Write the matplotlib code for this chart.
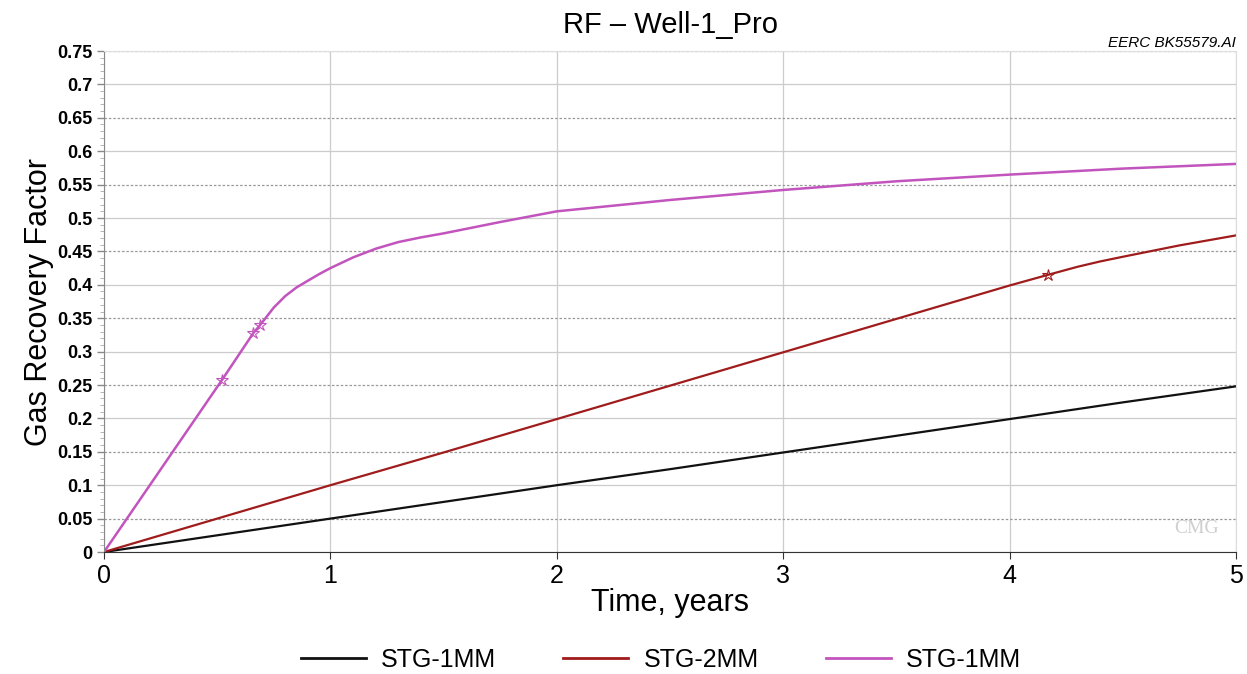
import numpy as np
import matplotlib.pyplot as plt
from matplotlib.ticker import MultipleLocator
from matplotlib.lines import Line2D

plt.rcParams['font.family'] = ['Liberation Sans', 'DejaVu Sans']

# series
t_black = [0, 0.5, 1, 1.5, 2, 2.5, 3, 3.5, 4, 4.5, 5]
rf_black = [0, 0.025, 0.05, 0.075, 0.1, 0.124, 0.149, 0.174, 0.199, 0.224, 0.248]

t_red = [0, 0.5, 1, 1.5, 2, 2.5, 3, 3.5, 4, 4.17, 4.3, 4.4, 4.5, 4.75, 5]
rf_red = [0, 0.05, 0.1, 0.149, 0.199, 0.249, 0.299, 0.349, 0.399, 0.415, 0.427, 0.435, 0.442, 0.459, 0.474]

t_pink = [0, 0.52, 0.66, 0.69, 0.75, 0.8, 0.85, 0.9, 0.95, 1.0, 1.1, 1.2, 1.3, 1.4, 1.5,
          1.75, 2.0, 2.5, 3.0, 3.5, 4.0, 4.5, 5.0]
rf_pink = [0, 0.257, 0.328, 0.34, 0.366, 0.383, 0.396, 0.406, 0.416, 0.425, 0.441, 0.454, 0.464,
           0.471, 0.477, 0.494, 0.51, 0.527, 0.542, 0.555, 0.565, 0.574, 0.581]

mark_pink = [1, 2, 3]
mark_red = [9]

labels = ['STG-1MM', 'STG-2MM', 'STG-1MM']
colors = ['#111111', '#a01c1c', '#c254bd']

fig = plt.figure(figsize=(12.47, 6.74), dpi=100)
ax = fig.add_axes([0.0834, 0.181, 0.9078, 0.7433])

ax.plot(t_black, rf_black, color=colors[0], lw=1.6)
ax.plot(t_red, rf_red, color=colors[1], lw=1.6,
        marker='*', markevery=mark_red, ms=9, mfc='none', mew=0.8)
ax.plot(t_pink, rf_pink, color=colors[2], lw=1.8,
        marker='*', markevery=mark_pink, ms=9, mfc='none', mew=0.8)

ax.set_xlim(0, 5)
ax.set_ylim(0, 0.75)
ax.xaxis.set_major_locator(MultipleLocator(1))
ax.yaxis.set_minor_locator(MultipleLocator(0.01))
ax.set_yticks(np.arange(0, 0.751, 0.05))
ax.set_yticklabels(['0'] + ['%g' % v for v in np.arange(0.05, 0.751, 0.05)])

ax.tick_params(axis='y', labelsize=13, length=5, color='#888888', width=1)
ax.tick_params(axis='y', which='minor', length=3, color='#aaaaaa')
ax.tick_params(axis='x', labelsize=18, length=5, color='#333333')
for lbl in ax.get_yticklabels():
    lbl.set_fontweight('bold')

ax.grid(True, axis='x', color='#cccccc', lw=0.9)
ax.grid(True, axis='y', color='#cccccc', lw=0.9)
for i, gl in enumerate(ax.yaxis.get_gridlines()):
    if i % 2 == 1:
        gl.set_linestyle((0, (2, 1.5)))
        gl.set_color('#999999')
ax.set_axisbelow(True)

ax.spines['left'].set_color('#888888')
ax.spines['bottom'].set_color('#333333')
ax.spines['top'].set_color('#dddddd')
ax.spines['right'].set_color('#dddddd')

ax.set_xlabel('Time, years', fontsize=22, labelpad=0)
ax.set_ylabel('Gas Recovery Factor', fontsize=22, labelpad=2)
ax.set_title('RF – Well-1_Pro', fontsize=21, pad=13)

fig.text(0.991, 0.931, 'EERC BK55579.AI', ha='right', va='baseline',
         fontsize=11, style='italic')
ax.text(0.985, 0.03, 'CMG', transform=ax.transAxes, ha='right', va='bottom',
        fontsize=14, color='#cfcfcf', family='Liberation Serif')

handles = [Line2D([], [], color=c, lw=2) for c in colors]
fig.legend(handles, labels, loc='lower center', bbox_to_anchor=(0.53, -0.03), ncol=3,
           frameon=False, fontsize=18, handlelength=2.6, columnspacing=2.7,
           handletextpad=0.6)

fig.savefig('out.png', dpi=100)
